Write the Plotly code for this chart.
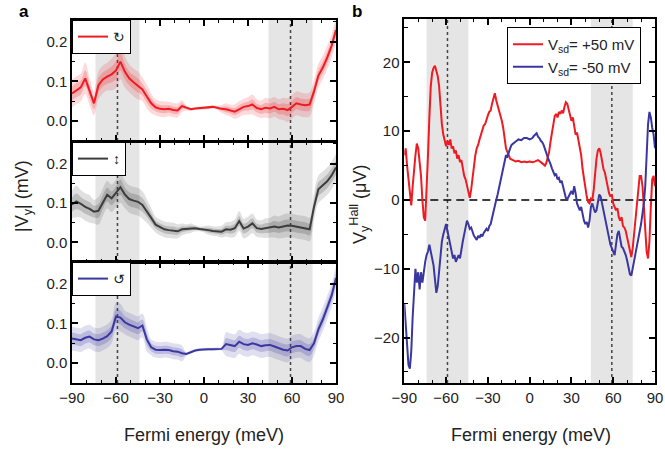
import plotly.graph_objects as go

# ---------------- panel a: |V_y| for three polarisations ----------------
energy_a = list(range(-90, 91, 3))

vy_cw = [0.070, 0.078, 0.085, 0.108, 0.075, 0.045, 0.090, 0.105, 0.112, 0.118,
         0.128, 0.150, 0.125, 0.108, 0.098, 0.090, 0.080, 0.062, 0.045, 0.035,
         0.031, 0.030, 0.031, 0.028, 0.027, 0.038, 0.033, 0.030, 0.032, 0.033,
         0.033, 0.034, 0.036, 0.034, 0.031, 0.030, 0.027, 0.024, 0.030, 0.036,
         0.038, 0.042, 0.033, 0.030, 0.034, 0.032, 0.036, 0.030, 0.031, 0.028,
         0.036, 0.045, 0.042, 0.040, 0.042, 0.075, 0.115, 0.135, 0.160, 0.190,
         0.230]
spread_cw = [0.035, 0.035, 0.035, 0.040, 0.035, 0.030, 0.035, 0.035, 0.035, 0.040,
             0.045, 0.045, 0.040, 0.035, 0.035, 0.035, 0.030, 0.030, 0.025, 0.020,
             0.020, 0.020, 0.018, 0.018, 0.018, 0.015, 0.006, 0.004, 0.004, 0.004,
             0.004, 0.004, 0.004, 0.005, 0.010, 0.015, 0.015, 0.018, 0.020, 0.020,
             0.022, 0.025, 0.022, 0.022, 0.025, 0.025, 0.025, 0.025, 0.028, 0.030,
             0.030, 0.030, 0.030, 0.030, 0.030, 0.030, 0.030, 0.030, 0.030, 0.030,
             0.030]

vy_lin = [0.096, 0.104, 0.098, 0.090, 0.085, 0.078, 0.080, 0.102, 0.121, 0.112,
          0.125, 0.140, 0.122, 0.110, 0.106, 0.103, 0.095, 0.080, 0.062, 0.045,
          0.038, 0.033, 0.031, 0.030, 0.028, 0.033, 0.034, 0.036, 0.036, 0.034,
          0.033, 0.031, 0.029, 0.028, 0.027, 0.033, 0.032, 0.036, 0.054, 0.035,
          0.040, 0.048, 0.036, 0.034, 0.036, 0.037, 0.040, 0.038, 0.041, 0.043,
          0.042, 0.040, 0.038, 0.036, 0.033, 0.090, 0.135, 0.145, 0.155, 0.170,
          0.190]
spread_lin = [0.035, 0.040, 0.035, 0.035, 0.035, 0.030, 0.035, 0.035, 0.035, 0.035,
              0.035, 0.040, 0.035, 0.035, 0.035, 0.035, 0.035, 0.030, 0.025, 0.020,
              0.020, 0.020, 0.020, 0.020, 0.018, 0.015, 0.012, 0.012, 0.008, 0.006,
              0.008, 0.012, 0.012, 0.012, 0.015, 0.018, 0.020, 0.022, 0.025, 0.025,
              0.025, 0.025, 0.022, 0.022, 0.025, 0.025, 0.028, 0.028, 0.030, 0.030,
              0.030, 0.030, 0.030, 0.030, 0.030, 0.035, 0.035, 0.035, 0.035, 0.035,
              0.035]

vy_ccw = [0.062, 0.060, 0.058, 0.064, 0.067, 0.060, 0.058, 0.062, 0.068, 0.080,
          0.118, 0.115, 0.103, 0.097, 0.092, 0.088, 0.095, 0.060, 0.040, 0.034,
          0.033, 0.034, 0.033, 0.030, 0.029, 0.025, 0.023, 0.028, 0.032, 0.034,
          0.035, 0.035, 0.035, 0.036, 0.036, 0.048, 0.045, 0.043, 0.054, 0.048,
          0.046, 0.050, 0.047, 0.043, 0.045, 0.046, 0.042, 0.038, 0.034, 0.032,
          0.040, 0.043, 0.043, 0.036, 0.033, 0.050, 0.085, 0.110, 0.140, 0.170,
          0.215]
spread_ccw = [0.030, 0.030, 0.030, 0.030, 0.030, 0.030, 0.030, 0.030, 0.030, 0.030,
              0.035, 0.035, 0.030, 0.030, 0.030, 0.030, 0.030, 0.030, 0.020, 0.020,
              0.020, 0.020, 0.020, 0.020, 0.020, 0.020, 0.004, 0.004, 0.004, 0.004,
              0.004, 0.004, 0.004, 0.004, 0.004, 0.030, 0.030, 0.030, 0.030, 0.030,
              0.030, 0.030, 0.030, 0.030, 0.030, 0.030, 0.030, 0.030, 0.030, 0.030,
              0.030, 0.030, 0.030, 0.030, 0.030, 0.030, 0.030, 0.030, 0.030, 0.030,
              0.030]

# ---------------- panel b: Hall voltage for both bias signs ----------------
energy_plus = list(range(-90, -13)) + list(range(-12, 11, 2)) + list(range(11, 91))
vhall_plus = [6.5, 7.5, 5.0, 3.0, 1.0, -0.8, 2.0, 5.0, 6.5, 8.2,
              7.5, 5.5, 3.5, 0.0, -2.5, -3.0, 1.0, 6.5, 12.0, 16.5,
              18.5, 19.2, 19.5, 18.8, 18.0, 16.5, 13.5, 11.0, 9.5, 8.5,
              7.8, 8.6, 8.0, 8.8, 7.5, 7.8, 6.8, 7.2, 6.0, 6.5,
              5.5, 5.8, 4.5, 3.5, 3.0, 2.0, 1.0, 0.3, 1.5, 3.5,
              5.5, 6.5, 7.5, 8.0, 8.8, 9.5, 10.0, 10.8, 11.0, 11.8,
              12.3, 12.8, 13.0, 14.0, 14.8, 15.5, 14.5, 13.8, 13.0, 12.5,
              11.5, 10.5, 9.0, 7.5, 7.0, 6.5, 6.0,
              5.8, 5.6, 5.7, 5.5, 5.6, 5.5, 5.6, 5.5, 5.6, 5.8, 5.5, 5.2,
              5.0, 5.4, 6.2, 7.0, 8.5, 10.0, 11.5, 12.2, 12.5, 12.0,
              12.8, 12.5, 13.0, 12.6, 13.5, 14.2, 14.0, 13.0, 12.5, 11.5,
              12.0, 10.5, 9.5, 9.8, 8.5, 7.8, 6.5, 4.5, 3.0, 1.5,
              0.5, -0.3, -0.5, 0.2, 0.0, 1.5, 4.0, 6.0, 7.2, 7.5,
              6.8, 5.5, 4.5, 4.0, 3.0, 1.8, 1.0, 0.5, 0.8, -0.5,
              -1.0, -1.5, -1.2, -2.5, -3.0, -2.5, -3.8, -4.0, -4.5, -5.5,
              -6.5, -7.5, -8.3, -7.0, -5.0, -3.5, -1.0, 1.5, 3.5, 3.5,
              2.0, -1.0, -4.0, -7.5, -8.5, -6.0, -1.0, 3.0, 3.5, 2.0]

energy_minus = list(range(-90, -12)) + list(range(-12, -1, 2)) + list(range(0, 91))
vhall_minus = [-15.0, -18.0, -21.5, -24.0, -24.5, -22.0, -17.0, -12.5, -10.0, -12.0,
               -10.5, -13.0, -10.5, -12.0, -10.0, -9.0, -8.0, -7.5, -6.5, -7.5,
               -8.0, -9.5, -11.5, -13.5, -12.5, -10.0, -7.5, -6.0, -5.0, -4.0,
               -3.5, -4.5, -5.5, -6.5, -8.0, -8.5, -8.0, -9.0, -8.5, -8.0,
               -8.5, -7.0, -6.0, -5.0, -4.0, -3.0, -3.5, -4.2, -4.0, -4.8,
               -5.2, -5.5, -5.8, -5.2, -5.5, -5.0, -5.3, -4.8, -4.5, -4.2,
               -4.5, -3.8, -3.5, -2.5, -1.5, -0.5, 0.0, 0.8, 1.8, 2.8,
               3.8, 4.5, 5.8, 6.5, 6.3, 7.0, 7.5, 8.0,
               8.2, 8.5, 8.8, 8.7, 9.0, 9.0,
               8.8, 8.9, 9.0, 9.3, 9.5, 9.7, 9.2, 9.0, 8.6, 8.4,
               8.0, 7.5, 6.8, 6.2, 5.8, 5.2, 4.6, 4.0, 3.6, 3.8,
               3.0, 3.2, 2.5, 2.8, 2.0, 1.2, 0.3, 0.1, 0.5, 1.0,
               1.3, 0.8, 2.0, 1.0, -0.5, -1.0, -1.5, -1.0, -2.2, -3.0,
               -3.5, -3.2, -4.0, -3.0, -1.0, -0.5, -1.2, -1.8, -1.5, -0.5,
               0.8, 0.5, -0.5, -1.5, -2.5, -3.5, -4.8, -5.5, -6.5, -7.0,
               -7.5, -8.0, -6.5, -5.0, -4.5, -5.5, -6.8, -7.0, -7.5, -8.0,
               -8.8, -10.0, -10.8, -11.0, -10.0, -8.5, -7.5, -7.0, -6.0, -4.5,
               -3.5, -2.0, -0.5, 2.0, 6.5, 11.0, 12.8, 12.0, 10.5, 9.5,
               7.5]

shaded_bands = [(-74, -44), (44, 74)]
marker_energies = [-59, 59]

assert len(vhall_plus) == len(energy_plus)
assert len(vhall_minus) == len(energy_minus)
for arr in (vy_cw, spread_cw, vy_lin, spread_lin, vy_ccw, spread_ccw):
    assert len(arr) == len(energy_a)

RED = "#ef1b22"
GREY = "#3c3c3c"
BLUE = "#3b37a0"
FONT = "Liberation Sans, Arial, DejaVu Sans, sans-serif"

W, H = 665, 450
def px_x(p):
    return p / W
def px_y(p):
    return 1 - p / H

fig = go.Figure()

panels_a = [
    ("x", "y", vy_cw, spread_cw, RED, (239, 27, 34), "\u21bb", "legend2"),
    ("x2", "y2", vy_lin, spread_lin, GREY, (60, 60, 60), "\u2195", "legend3"),
    ("x3", "y3", vy_ccw, spread_ccw, BLUE, (59, 55, 160), "\u21ba", "legend4"),
]

for xa, ya, vals, spr, col, rgb, sym, leg in panels_a:
    for frac, alpha in ((1.0, 0.16), (0.5, 0.22)):
        hi = [v + s * frac for v, s in zip(vals, spr)]
        lo = [v - s * frac for v, s in zip(vals, spr)]
        fig.add_trace(go.Scatter(x=energy_a, y=hi, xaxis=xa, yaxis=ya, mode="lines",
                                 line=dict(width=0, shape="spline"), showlegend=False,
                                 hoverinfo="skip"))
        fig.add_trace(go.Scatter(x=energy_a, y=lo, xaxis=xa, yaxis=ya, mode="lines",
                                 line=dict(width=0, shape="spline"), fill="tonexty",
                                 fillcolor="rgba(%d,%d,%d,%.2f)" % (rgb + (alpha,)),
                                 showlegend=False, hoverinfo="skip"))
    fig.add_trace(go.Scatter(x=energy_a, y=vals, xaxis=xa, yaxis=ya, mode="lines",
                             line=dict(color=col, width=2), name=sym, legend=leg))

fig.add_trace(go.Scatter(x=energy_plus, y=vhall_plus, xaxis="x4", yaxis="y4", mode="lines",
                         line=dict(color=RED, width=2),
                         name="V<sub>sd</sub>= +50 mV", legend="legend"))
fig.add_trace(go.Scatter(x=energy_minus, y=vhall_minus, xaxis="x4", yaxis="y4", mode="lines",
                         line=dict(color=BLUE, width=2),
                         name="V<sub>sd</sub>= -50 mV", legend="legend"))

# axis styling
def axis_style(minor_dtick, **kw):
    d = dict(showline=True, linecolor="black", linewidth=1.5, mirror="allticks",
             ticks="inside", ticklen=6, tickwidth=1.5, tickcolor="black",
             showgrid=False, zeroline=False, automargin=False,
             minor=dict(ticks="inside", ticklen=3.5, tickwidth=1.2, tickcolor="black",
                        dtick=minor_dtick, showgrid=False),
             tickfont=dict(family=FONT, size=15, color="#222"))
    d.update(kw)
    return d

xdom_a = [px_x(72), px_x(336)]
xdom_b = [px_x(404.3), px_x(655)]
ydoms_a = [[px_y(141), px_y(20)], [px_y(262), px_y(142)], [px_y(383), px_y(262)]]

layout = dict(
    width=W, height=H, margin=dict(l=0, r=0, t=0, b=0),
    paper_bgcolor="white", plot_bgcolor="white",
    font=dict(family=FONT, color="#222"),
)
for i, (xa, ya) in enumerate((("xaxis", "yaxis"), ("xaxis2", "yaxis2"), ("xaxis3", "yaxis3"))):
    anchor_x = "y" if i == 0 else "y%d" % (i + 1)
    anchor_y = "x" if i == 0 else "x%d" % (i + 1)
    layout[xa] = axis_style(10, domain=xdom_a, anchor=anchor_x, range=[-90, 90],
                            tickvals=[-90, -60, -30, 0, 30, 60, 90],
                            showticklabels=(i == 2))
    layout[ya] = axis_style(0.05, domain=ydoms_a[i], anchor=anchor_y, range=[-0.05, 0.255],
                            tickvals=[0.0, 0.1, 0.2], tickformat=".1f")
layout["xaxis4"] = axis_style(10, domain=xdom_b, anchor="y4", range=[-90, 90],
                              tickvals=[-90, -60, -30, 0, 30, 60, 90])
layout["yaxis4"] = axis_style(5, domain=[px_y(383), px_y(19)], anchor="x4", range=[-26.6, 26.3],
                              tickvals=[-20, -10, 0, 10, 20])

leg_common = dict(bgcolor="white", bordercolor="black", borderwidth=1,
                  xanchor="left", yanchor="top", xref="paper", yref="paper",
                  traceorder="normal",
                  font=dict(family=FONT, size=15, color="#222"), tracegroupgap=0)
layout["legend"] = dict(leg_common, x=px_x(507), y=px_y(27))
layout["legend2"] = dict(leg_common, x=px_x(72), y=px_y(20), font=dict(family=FONT, size=14, color="#222"))
layout["legend3"] = dict(leg_common, x=px_x(72), y=px_y(142), font=dict(family=FONT, size=14, color="#222"))
layout["legend4"] = dict(leg_common, x=px_x(72), y=px_y(262), font=dict(family=FONT, size=14, color="#222"))

shapes = []
for xa, ya in (("x", "y"), ("x2", "y2"), ("x3", "y3"), ("x4", "y4")):
    for lo, hi in shaded_bands:
        shapes.append(dict(type="rect", xref=xa, yref=ya + " domain", x0=lo, x1=hi, y0=0, y1=1,
                           fillcolor="#e5e5e5", line=dict(width=0), layer="below"))
    for e in marker_energies:
        shapes.append(dict(type="line", xref=xa, yref=ya + " domain", x0=e, x1=e, y0=0, y1=1,
                           line=dict(color="#444", width=1.5, dash="dot"), layer="below"))
shapes.append(dict(type="line", xref="x4 domain", yref="y4", x0=0, x1=1, y0=0, y1=0,
                   line=dict(color="black", width=1.5, dash="8px,5px"), layer="below"))
layout["shapes"] = shapes

title_font = dict(family=FONT, size=18, color="#222")
def label(text, x, y, font, angle=0):
    return dict(text=text, x=px_x(x), y=px_y(y), xref="paper", yref="paper",
                xanchor="center", yanchor="middle", textangle=angle,
                showarrow=False, font=font)

layout["annotations"] = [
    label("<b>a</b>", 24, 12, dict(family=FONT, size=17, color="black")),
    label("<b>b</b>", 357, 12, dict(family=FONT, size=17, color="black")),
    label("Fermi energy (meV)", 204, 435, title_font),
    label("Fermi energy (meV)", 531, 435, title_font),
    label("|V<sub>y</sub>| (mV)", 24, 196, title_font, -90),
    label("V<sub>y</sub><sup>Hall</sup> (\u03bcV)", 360, 205, title_font, -90),
]

fig.update_layout(**layout)
fig.write_html("out.html")
